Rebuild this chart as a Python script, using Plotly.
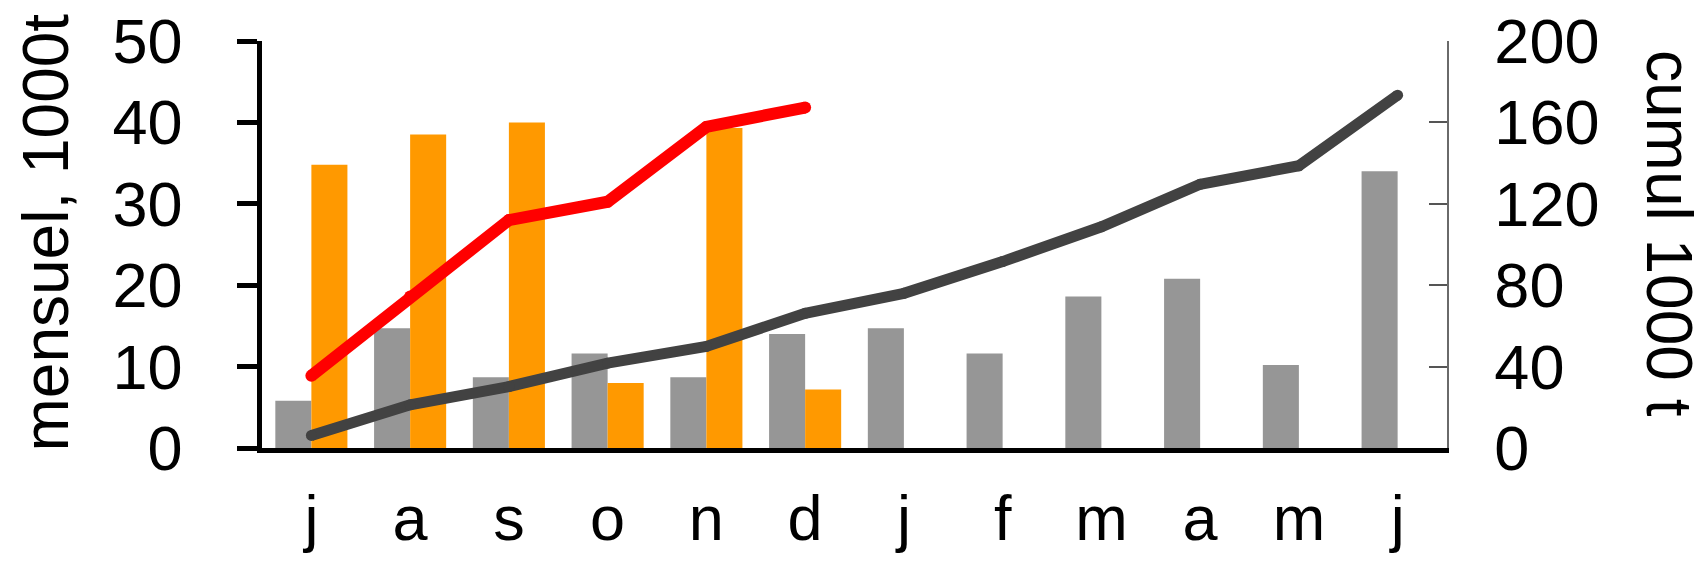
import plotly.graph_objects as go

# ---- data ----
months = ['j', 'a', 's', 'o', 'n', 'd', 'j', 'f', 'm', 'a', 'm', 'j']
prev_monthly = [5.8, 14.7, 8.7, 11.6, 8.7, 14.0, 14.7, 11.6, 18.6, 20.8, 10.2, 34.0]
curr_monthly = [34.8, 38.5, 40.0, 8.0, 39.3, 7.2]
prev_cumul = [6.2, 21.2, 30.2, 41.7, 49.9, 66.2, 76.0, 91.6, 108.7, 129.6, 138.7, 173.4]
curr_cumul = [35.5, 74.4, 112.0, 121.0, 157.8, 167.3]
left_ticks = [0, 10, 20, 30, 40, 50]
right_ticks = [0, 40, 80, 120, 160, 200]
left_title = 'mensuel, 1000t'
right_title = 'cumul 1000 t'

FONT = 'Liberation Sans, Arial, sans-serif'
GREY_BAR = '#969696'
ORANGE = '#FF9900'
DARK = '#424242'
RED = '#FF0000'

idx = list(range(len(months)))

fig = go.Figure()
fig.add_trace(go.Bar(x=idx, y=prev_monthly, marker=dict(color=GREY_BAR, line=dict(width=0)),
                     name='prev', yaxis='y'))
fig.add_trace(go.Bar(x=idx[:len(curr_monthly)], y=curr_monthly,
                     marker=dict(color=ORANGE, line=dict(width=0)), name='curr', yaxis='y'))
fig.add_trace(go.Scatter(x=idx, y=prev_cumul, mode='lines+markers', yaxis='y2',
                         line=dict(color=DARK, width=11),
                         marker=dict(color=DARK, size=11, line=dict(width=0))))
fig.add_trace(go.Scatter(x=idx[:len(curr_cumul)], y=curr_cumul, mode='lines+markers', yaxis='y2',
                         line=dict(color=RED, width=12),
                         marker=dict(color=RED, size=12, line=dict(width=0))))

L, R, T, B = 262, 261, 41, 127
W, H = 1708, 575
pw = W - L - R
ph = H - T - B

def px_x(p):
    return (p - L) / pw

def px_y(p):
    return (H - B - p) / ph

fig.update_layout(
    width=W, height=H,
    margin=dict(l=L, r=R, t=T, b=B, autoexpand=False),
    paper_bgcolor='white', plot_bgcolor='white',
    showlegend=False,
    barmode='group', bargap=0.27, bargroupgap=0,
    font=dict(family=FONT, size=63, color='black'),
    xaxis=dict(
        range=[-0.5, len(months) - 0.5],
        tickmode='array', tickvals=idx, ticktext=months,
        showline=True, linecolor='black', linewidth=5,
        ticks='', showgrid=False, zeroline=False,
        tickfont=dict(family=FONT, size=63),
        ticklabelstandoff=11,
    ),
    yaxis=dict(
        range=[0, 50], tickmode='array', tickvals=left_ticks,
        showline=True, linecolor='black', linewidth=4.5,
        ticks='outside', ticklen=20, tickwidth=4.5, tickcolor='black',
        showgrid=False, zeroline=False,
        tickfont=dict(family=FONT, size=63),
        ticklabelstandoff=42,
    ),
    yaxis2=dict(
        range=[0, 200], tickmode='array', tickvals=right_ticks,
        overlaying='y', side='right',
        showline=True, linecolor='#6a6a6a', linewidth=1.5,
        ticks='inside', ticklen=18, tickwidth=1.5, tickcolor='#555555',
        showgrid=False, zeroline=False,
        tickfont=dict(family=FONT, size=63),
        ticklabelstandoff=33,
    ),
    annotations=[
        dict(text=left_title, xref='paper', yref='paper', x=px_x(45), y=px_y(232.5),
             xanchor='center', yanchor='middle', textangle=-90, showarrow=False,
             font=dict(family=FONT, size=64, color='black')),
        dict(text=right_title, xref='paper', yref='paper', x=px_x(1669), y=px_y(233),
             xanchor='center', yanchor='middle', textangle=90, showarrow=False,
             font=dict(family=FONT, size=64, color='black')),
    ],
)

fig.write_html('out.html', config={'displayModeBar': False},
               post_script="document.body.style.margin='0';document.body.style.overflow='hidden';")
